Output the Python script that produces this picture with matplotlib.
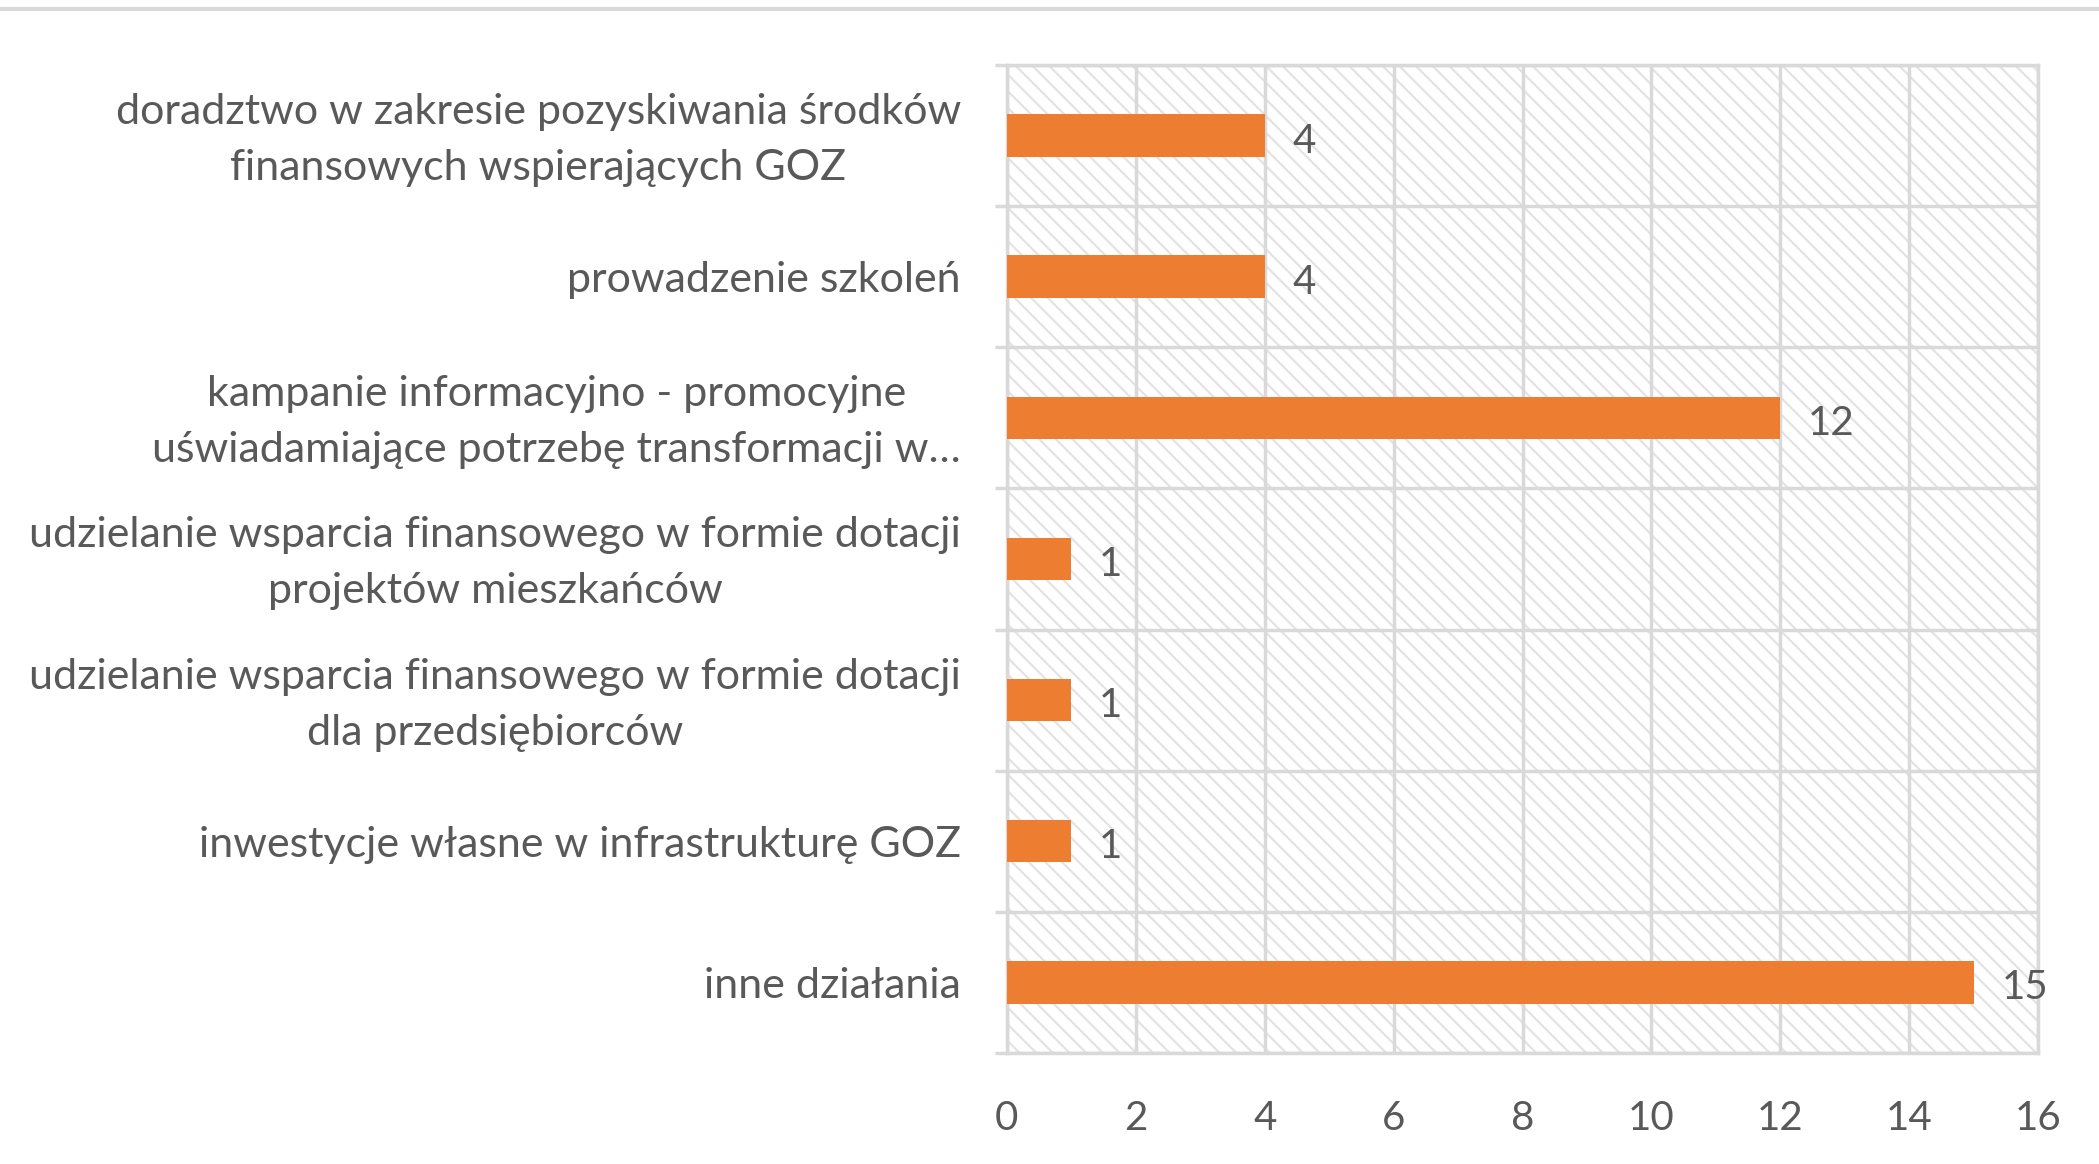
import matplotlib.pyplot as plt
from matplotlib.patches import Rectangle
from matplotlib.lines import Line2D
from matplotlib.transforms import ScaledTranslation

plt.rcParams['font.family'] = ['Lato', 'DejaVu Sans']
plt.rcParams['hatch.linewidth'] = 1.6

categories = [
    'doradztwo w zakresie pozyskiwania środków\nfinansowych wspierających GOZ',
    'prowadzenie szkoleń',
    'kampanie informacyjno - promocyjne\nuświadamiające potrzebę transformacji w…',
    'udzielanie wsparcia finansowego w formie dotacji\nprojektów mieszkańców',
    'udzielanie wsparcia finansowego w formie dotacji\ndla przedsiębiorców',
    'inwestycje własne w infrastrukturę GOZ',
    'inne działania',
]
values = [4, 4, 12, 1, 1, 1, 15]
xticks = [0, 2, 4, 6, 8, 10, 12, 14, 16]

text_color = '#595959'
grid_color = '#D9D9D9'
bar_color = '#ED7D31'

fig = plt.figure(figsize=(20.99, 11.64), dpi=100)
ax = fig.add_axes([0.4797, 0.0954, 0.4913, 0.8488])

# hatched plot area background
bg = Rectangle((0, 0), 1, 1, transform=ax.transAxes, facecolor='white',
               edgecolor='#E3E3E3', hatch='\\\\', linewidth=0, zorder=0)
ax.add_patch(bg)

ypos = list(range(len(categories)))
ax.barh(ypos, values, height=0.3, color=bar_color, zorder=3)
for y, v in zip(ypos, values):
    ax.annotate(str(v), (v, y), xytext=(20, -4), textcoords='offset points',
                ha='left', va='center', fontsize=29, color=text_color, zorder=4)

ax.set_xlim(0, 16)
ax.set_ylim(len(categories) - 0.5, -0.5)
ax.set_xticks(xticks)
ax.set_yticks(ypos)
ax.set_yticklabels(categories)
ax.set_yticks([y - 0.5 for y in range(len(categories) + 1)], minor=True)

ax.tick_params(axis='y', which='major', length=0, pad=33, labelsize=31, labelcolor=text_color)
ax.tick_params(axis='y', which='minor', length=9, width=2.5, color=grid_color)
ax.tick_params(axis='x', which='major', length=0, pad=34, labelsize=29, labelcolor=text_color)

# two-line labels sit a little higher in the original
shift_up = ScaledTranslation(0, 0.08, fig.dpi_scale_trans)
for lab in ax.get_yticklabels():
    lab.set_multialignment('center')
    lab.set_linespacing(1.58)
    if '\n' in lab.get_text():
        lab.set_transform(lab.get_transform() + shift_up)

ax.grid(axis='x', which='major', color=grid_color, linewidth=2.5, zorder=1)
ax.grid(axis='y', which='minor', color=grid_color, linewidth=2.5, zorder=1)
ax.set_axisbelow(True)

for s in ax.spines.values():
    s.set_color(grid_color)
    s.set_linewidth(2.5)

fig.add_artist(Line2D([0, 1], [0.9923, 0.9923], transform=fig.transFigure,
                      color=grid_color, linewidth=3))

fig.savefig('out.png', dpi=100, facecolor='white')
